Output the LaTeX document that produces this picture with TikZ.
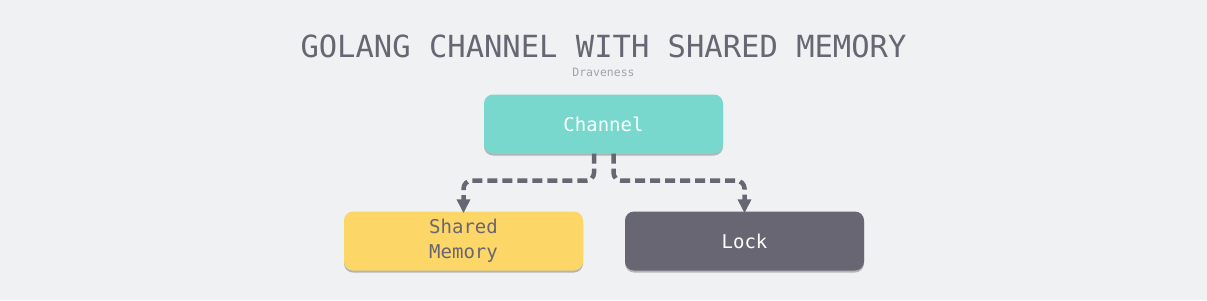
\documentclass[tikz,border=0pt]{standalone}
\usepackage{fontspec}
\setmonofont{DejaVu Sans Mono}
\usetikzlibrary{arrows.meta,shadows,calc}
\definecolor{bg}{HTML}{F0F1F3}
\definecolor{teal}{HTML}{79D8CD}
\definecolor{yel}{HTML}{FCD667}
\definecolor{dark}{HTML}{686672}
\definecolor{sub}{HTML}{A3A3AB}
\tikzset{
  box/.style={rounded corners=9pt, minimum width=239pt, minimum height=59pt, inner sep=0pt,
    align=center, font=\ttfamily\fontsize{19}{25}\selectfont,
    drop shadow={shadow xshift=0pt, shadow yshift=-2pt, opacity=0.25, fill=black}},
  conn/.style={draw=dark, line width=4.5pt, dash pattern=on 10pt off 5pt, rounded corners=8pt,
    -{Triangle[length=14pt,width=13pt]}}
}
\begin{document}
\begin{tikzpicture}[x=1pt,y=-1pt]
\fill[bg] (0,0) rectangle (1207,300);
\useasboundingbox (0,0) rectangle (1207,300);
\node[text=dark, font=\ttfamily\fontsize{30.5}{32}\selectfont] (title) at (603.5,46) {GOLANG CHANNEL WITH SHARED MEMORY};
\node[text=sub, font=\ttfamily\fontsize{11.5}{13}\selectfont] (author) at (603.5,72) {Draveness};
\node[box, fill=teal, text=white] (ch) at (603.5,124) {Channel};
\node[box, fill=yel, text=dark] (sm) at (463.5,241) {Shared\\Memory};
\node[box, fill=dark, text=white] (lk) at (744.5,241) {Lock};
\draw[conn] ([xshift=-9.5pt]ch.south) -- ++(0,27) -| ([yshift=-2pt]sm.north);
\draw[conn] ([xshift=10pt]ch.south) -- ++(0,27) -| ([yshift=-2pt]lk.north);
\end{tikzpicture}
\end{document}
